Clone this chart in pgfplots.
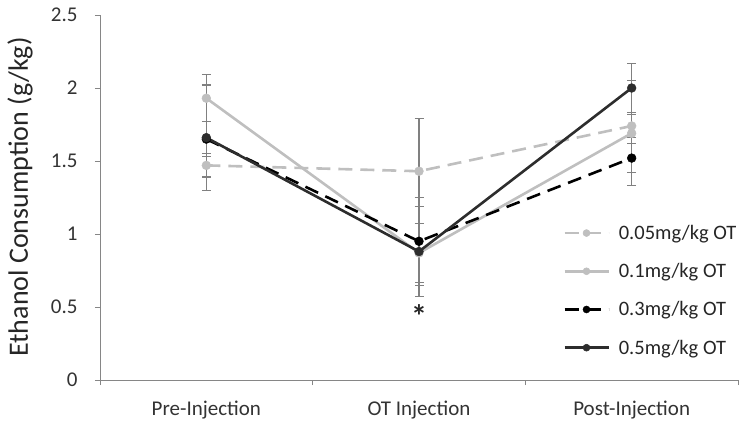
\documentclass[border=0pt]{standalone}
\usepackage{pgfplots}
\pgfplotsset{compat=1.18}
\usepackage{fontspec}
\setmainfont{Carlito}
\definecolor{lgray}{RGB}{191,191,191}
\definecolor{dgray}{RGB}{45,45,45}
\definecolor{axgray}{RGB}{134,134,134}
\definecolor{ebgray}{RGB}{128,128,128}
\begin{document}
\begin{tikzpicture}
\useasboundingbox (-100bp,-45bp) rectangle (650bp,380bp);
\begin{axis}[
  at={(0,0)}, anchor=south west,
  scale only axis, width=638bp, height=365bp,
  xmin=-0.5, xmax=2.5, ymin=0, ymax=2.5,
  xtick={0,1,2}, xticklabels={Pre-Injection,OT Injection,Post-Injection},
  minor xtick={-0.5,0.5,1.5,2.5},
  ytick={0,0.5,1,1.5,2,2.5},
  yticklabels={0,0.5,1,1.5,2,2.5},
  axis x line*=bottom, axis y line*=left,
  axis line style={axgray, line width=0.9bp, -},
  major x tick style={draw=none},
  minor x tick style={axgray, line width=0.9bp},
  y tick style={axgray, line width=0.9bp},
  major tick length=5bp, minor tick length=5bp,
  tick align=outside,
  tick label style={font=\fontsize{21bp}{24bp}\selectfont, text=black!80},
  xticklabel style={yshift=-12bp},
  yticklabel style={xshift=-14bp},
  every axis y label/.style={at={(-80bp,183bp)}, rotate=90, anchor=center,
    font=\fontsize{28bp}{31bp}\selectfont, text=black!85},
  ylabel={Ethanol Consumption (g/kg)},
  legend style={draw=none, fill=none, at={(463bp,157bp)}, anchor=north west,
    font=\fontsize{20.5bp}{23bp}\selectfont, text=black!85, row sep=18.5bp,
    legend cell align=left, inner sep=0pt,
    /tikz/every odd column/.append style={column sep=7bp}},
  legend image code/.code={\draw[#1,mark repeat=2,mark phase=2,mark size=3.5bp] plot coordinates {(0bp,0bp) (22bp,0bp) (44bp,0bp)};},
  every axis plot/.append style={line width=2.6bp, mark=*, mark size=4.4bp},
  error bars/y dir=both, error bars/y explicit,
  error bars/error bar style={ebgray, line width=1.2bp, solid},
  error bars/error mark options={rotate=90, ebgray, mark size=4.5bp, line width=1.2bp},
]
\addplot[lgray, dashed, dash pattern=on 14bp off 8bp, mark options={solid, fill=lgray, line width=0.5bp}]
  coordinates {(0,1.47) +- (0,0.08) (1,1.43) +- (0,0.36) (2,1.74) +- (0,0.08)};
\addlegendentry{0.05mg/kg OT}
\addplot[lgray, solid, mark options={solid, fill=lgray, line width=0.5bp}]
  coordinates {(0,1.93) +- (0,0.16) (1,0.87) +- (0,0.2) (2,1.69) +- (0,0.36)};
\addlegendentry{0.1mg/kg OT}
\addplot[black, dashed, dash pattern=on 14bp off 8bp, mark options={solid, fill=black, line width=0.5bp}]
  coordinates {(0,1.65) +- (0,0.12) (1,0.95) +- (0,0.30) (2,1.52) +- (0,0.10)};
\addlegendentry{0.3mg/kg OT}
\addplot[dgray, solid, mark options={solid, fill=dgray, line width=0.5bp}]
  coordinates {(0,1.66) +- (0,0.36) (1,0.88) +- (0,0.31) (2,2.00) +- (0,0.17)};
\addlegendentry{0.5mg/kg OT}
\node[font=\fontsize{32bp}{34bp}\selectfont\bfseries, text=black!85] at (axis cs:1,0.44) {*};
\end{axis}
\end{tikzpicture}
\end{document}
